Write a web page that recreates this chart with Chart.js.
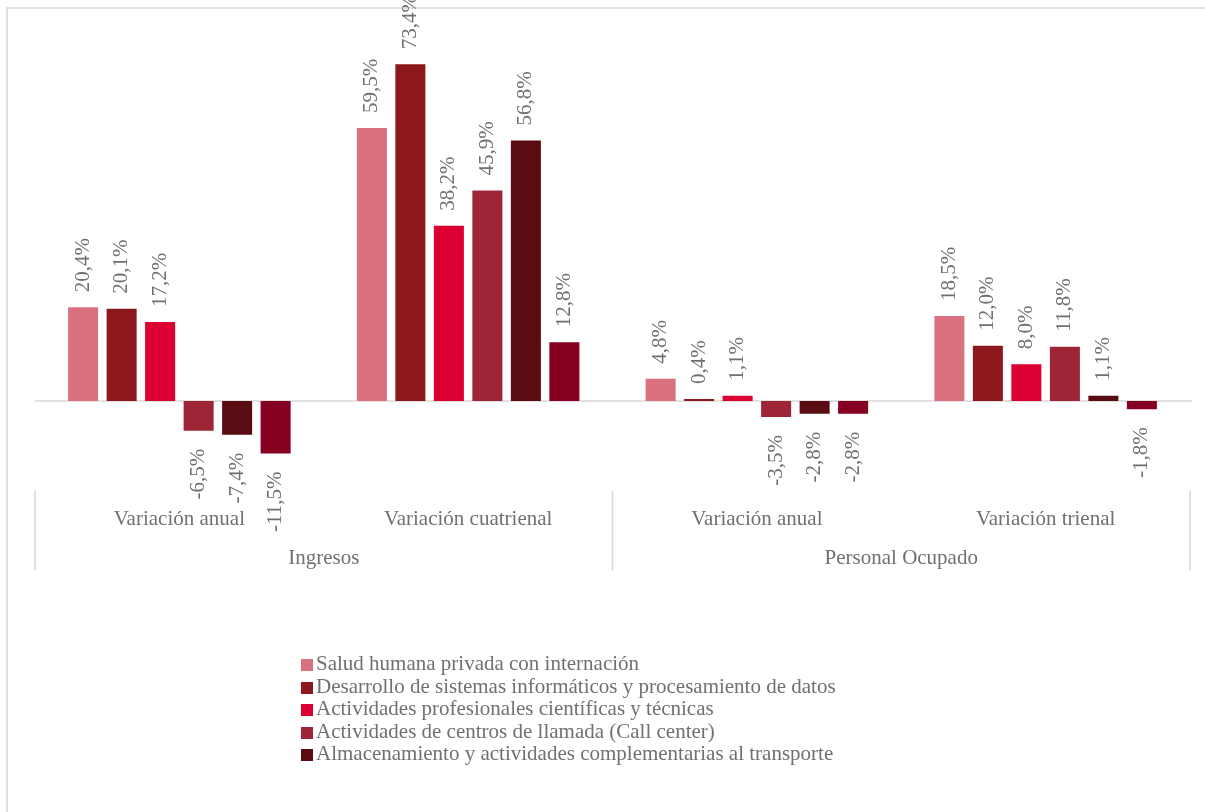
<!DOCTYPE html>
<html>
<head>
<meta charset="utf-8">
<script src="https://cdn.jsdelivr.net/npm/chart.js@4"></script>
<style>
  body { margin: 0; background: #fff; }
  #wrap { position: relative; width: 1205px; height: 812px; overflow: hidden; }
  #frame { position: absolute; left: 6px; top: 7px; width: 1199px; height: 805px;
           border-top: 2px solid #e0e0e0; border-left: 2px solid #e0e0e0; box-sizing: border-box; }
  #grafico { position: absolute; left: 0; top: 0; }
  #leyenda { position: absolute; left: 301px; top: 652px; font-family: 'Liberation Serif', 'Times New Roman', serif;
             font-size: 21px; color: #707070; }
  #leyenda div { height: 22.5px; line-height: 22.5px; white-space: nowrap; }
  #leyenda span.cuadro { display: inline-block; width: 12px; height: 12px; margin-right: 3px; vertical-align: -1px; }
</style>
</head>
<body>
<div id="wrap">
  <div id="frame"></div>
  <canvas id="grafico" width="1205" height="812"></canvas>
  <div id="leyenda"></div>
</div>
<script>
const categorias = ['Variación anual', 'Variación cuatrienal', 'Variación anual', 'Variación trienal'];
const grupos = ['Ingresos', 'Personal Ocupado'];

const series = [
  'Salud humana privada con internación',
  'Desarrollo de sistemas informáticos y procesamiento de datos',
  'Actividades profesionales científicas y técnicas',
  'Actividades de centros de llamada (Call center)',
  'Almacenamiento y actividades complementarias al transporte',
  'Otros servicios'
];
const colores = ['#DA717E', '#8C181B', '#DC0032', '#9E2535', '#590D12', '#880021'];

const salud = [20.4, 59.5, 4.8, 18.5];
const desarrollo = [20.1, 73.4, 0.4, 12.0];
const profesionales = [17.2, 38.2, 1.1, 8.0];
const callCenter = [-6.5, 45.9, -3.5, 11.8];
const almacenamiento = [-7.4, 56.8, -2.8, 1.1];
const otros = [-11.5, 12.8, -2.8, -1.8];
const valores = [salud, desarrollo, profesionales, callCenter, almacenamiento, otros];

const fuente = "'Liberation Serif', 'Times New Roman', serif";
const gris = '#707070';
const lineaGris = '#d9d9d9';

// etiquetas de datos verticales
const etiquetas = {
  id: 'etiquetas',
  afterDatasetsDraw(chart) {
    const ctx = chart.ctx;
    ctx.save();
    ctx.font = '21px ' + fuente;
    ctx.fillStyle = gris;
    ctx.textBaseline = 'middle';
    chart.data.datasets.forEach((ds, i) => {
      chart.getDatasetMeta(i).data.forEach((bar, j) => {
        const v = ds.data[j];
        const txt = v.toFixed(1).replace('.', ',') + '%';
        ctx.save();
        if (v >= 0) {
          ctx.translate(bar.x, bar.y - 15);
          ctx.textAlign = 'left';
        } else {
          ctx.translate(bar.x, bar.y + 18);
          ctx.textAlign = 'right';
        }
        ctx.rotate(-Math.PI / 2);
        ctx.fillText(txt, 0, 0);
        ctx.restore();
      });
    });
    ctx.restore();
  }
};

// linea de cero y separadores del eje
const lineas = {
  id: 'lineas',
  beforeDatasetsDraw(chart) {
    const ctx = chart.ctx;
    const y = chart.scales.y;
    const area = chart.chartArea;
    ctx.save();
    ctx.strokeStyle = lineaGris;
    ctx.lineWidth = 1.5;
    ctx.beginPath();
    ctx.moveTo(area.left, y.getPixelForValue(0));
    ctx.lineTo(area.right + 2, y.getPixelForValue(0));
    ctx.stroke();
    ctx.restore();
  },
  afterDraw(chart) {
    const ctx = chart.ctx;
    const x = chart.scales.x;
    const medio = (x.getPixelForValue(1) + x.getPixelForValue(2)) / 2;
    ctx.save();
    ctx.strokeStyle = lineaGris;
    ctx.lineWidth = 1.5;
    [x.left, medio, x.right].forEach(px => {
      ctx.beginPath();
      ctx.moveTo(px, x.top - 2);
      ctx.lineTo(px, x.top + 78);
      ctx.stroke();
    });
    ctx.restore();
  }
};

const grafico = new Chart(document.getElementById('grafico'), {
  type: 'bar',
  data: {
    labels: categorias,
    datasets: series.map((nombre, i) => ({
      label: nombre,
      data: valores[i],
      backgroundColor: colores[i],
      borderWidth: 0,
      categoryPercentage: 0.8,
      barPercentage: 0.78
    }))
  },
  options: {
    responsive: false,
    animation: false,
    layout: { padding: { left: 35, right: 15, top: 34, bottom: 241 } },
    plugins: {
      legend: { display: false },
      tooltip: { enabled: false }
    },
    scales: {
      y: {
        display: false,
        min: -20,
        max: 80
      },
      x: {
        position: 'bottom',
        grid: { display: false },
        border: { display: false },
        ticks: { color: gris, font: { family: fuente, size: 21 }, padding: 6, maxRotation: 0, autoSkip: false }
      },
      x2: {
        type: 'category',
        labels: grupos,
        position: 'bottom',
        offset: true,
        grid: { display: false },
        border: { display: false },
        ticks: { color: gris, font: { family: fuente, size: 21 }, padding: 0, maxRotation: 0 }
      }
    }
  },
  plugins: [lineas, etiquetas]
});

// leyenda (solo las cinco primeras series, como en el original)
const leyenda = document.getElementById('leyenda');
series.slice(0, 5).forEach((nombre, i) => {
  const fila = document.createElement('div');
  const cuadro = document.createElement('span');
  cuadro.className = 'cuadro';
  cuadro.style.background = colores[i];
  fila.appendChild(cuadro);
  fila.appendChild(document.createTextNode(nombre));
  leyenda.appendChild(fila);
});
</script>
</body>
</html>
